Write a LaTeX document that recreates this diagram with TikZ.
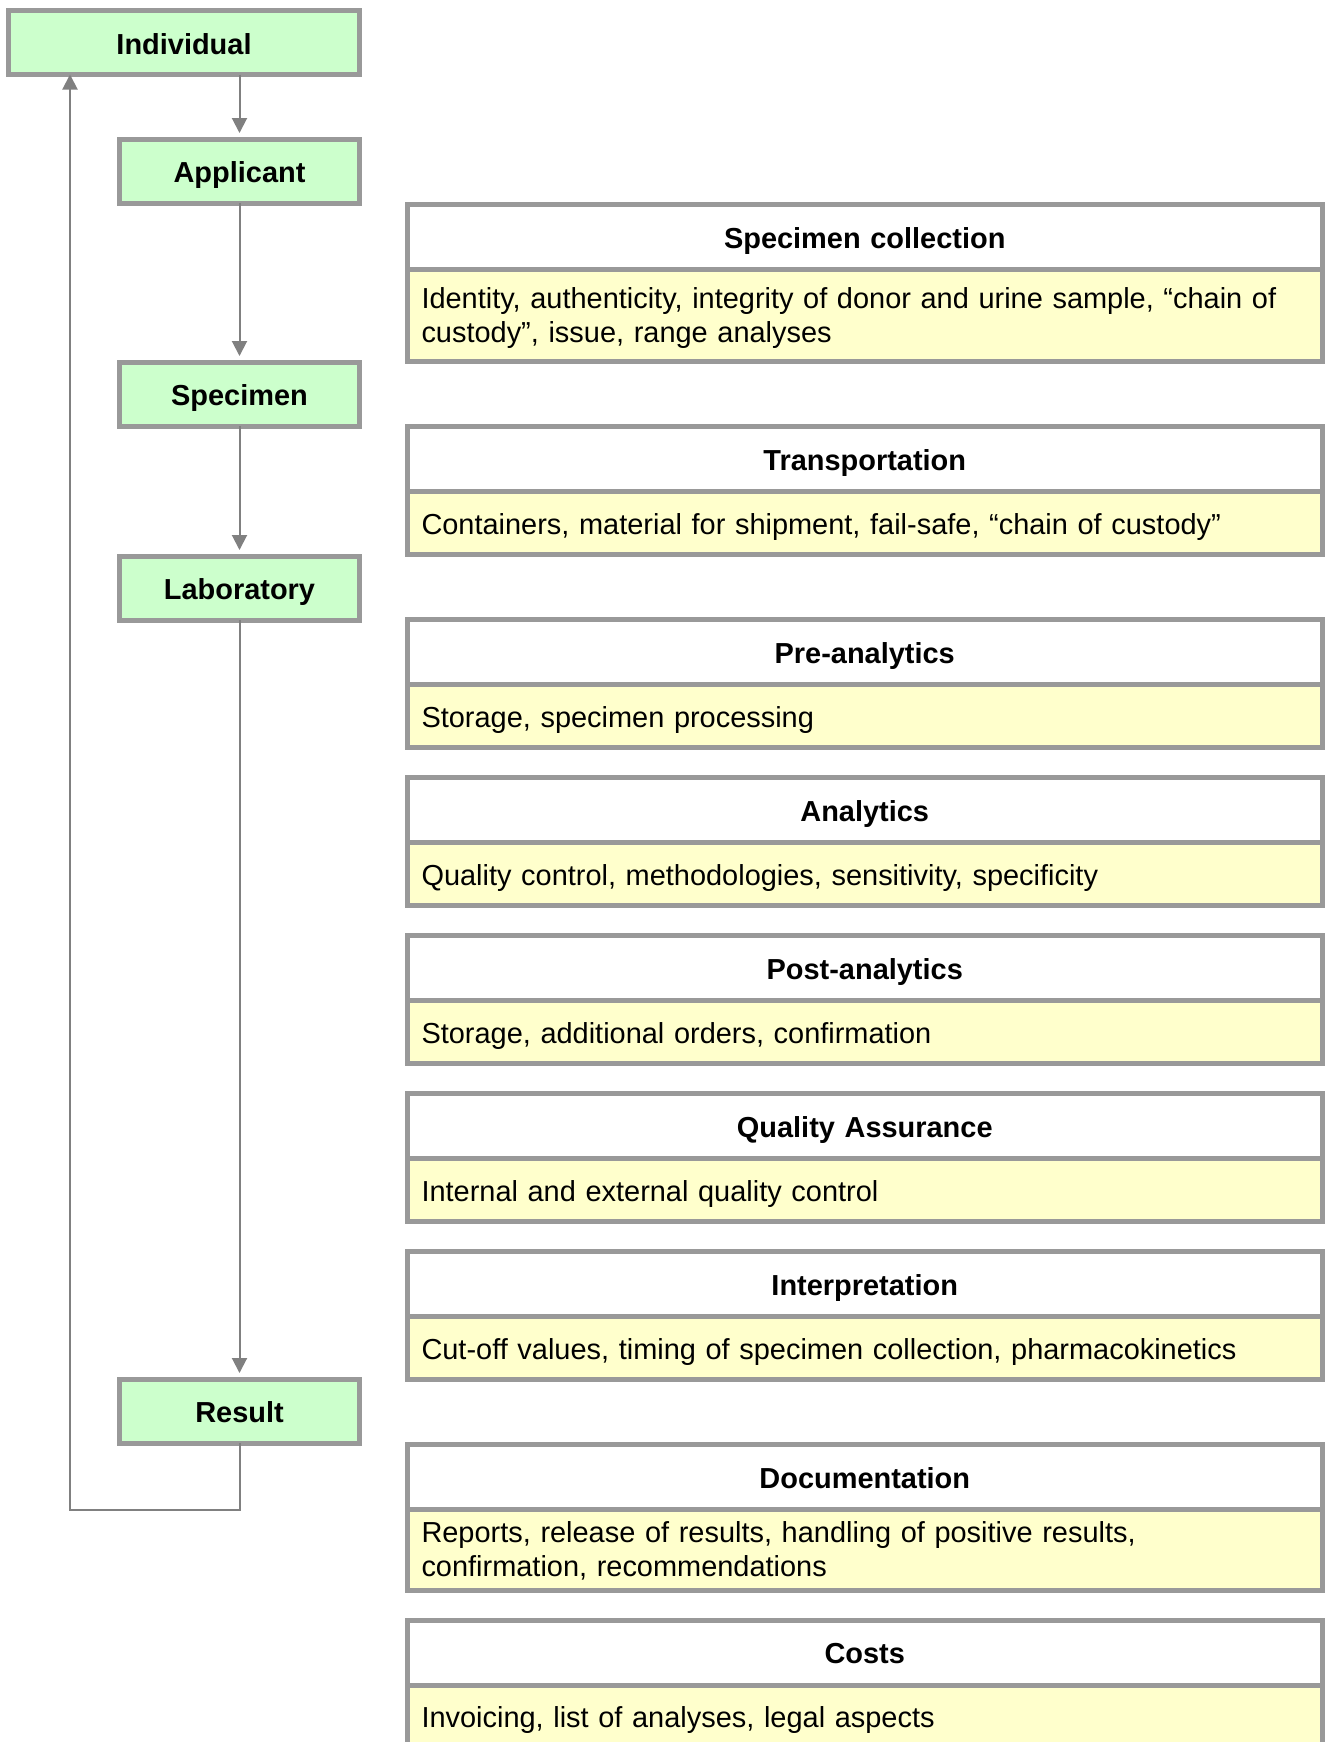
\documentclass[tikz,border=0pt]{standalone}
\usepackage{fontspec}
\setmainfont{Liberation Sans}
\usetikzlibrary{positioning,arrows.meta}
\definecolor{stagefill}{HTML}{CCFFCC}
\definecolor{notefill}{HTML}{FFFFCC}
\definecolor{rim}{HTML}{999999}
\definecolor{wire}{HTML}{808080}
\newcommand{\chartfont}{\fontsize{14.47pt}{17.2pt}\selectfont}

\begin{document}
\begin{tikzpicture}[x=0.5pt, y=-0.5pt]
    \tikzstyle{stage} = [rectangle, draw=rim, line width=2.5pt, fill=stagefill, minimum width=120pt, minimum height=32pt, text height=11.5pt, text depth=0pt, font=\chartfont\bfseries, outer sep=0pt]
    \tikzstyle{head} = [rectangle, draw=rim, line width=2.5pt, fill=white, text width=443.25pt, inner xsep=7pt, minimum height=32.5pt, text height=11pt, text depth=0pt, align=center, font=\chartfont\bfseries, outer sep=0pt]
    \tikzstyle{detail} = [head, fill=notefill, align=left, minimum height=31.5pt, font=\chartfont]
    \tikzstyle{twolines} = [text height=11pt, text depth=18.5pt]
    \tikzstyle{flow} = [draw=wire, line width=1pt, shorten >=3pt, -{Triangle[length=7.5pt, width=7.5pt]}]

    \useasboundingbox (0,0) rectangle (1324,1742);

    % left: the chain
    \node [stage, minimum width=175.5pt] (individual) at (184,42.5) {Individual};
    \node [stage] (applicant) at (239.5,171) {Applicant};
    \node [stage] (specimen) at (239.5,394) {Specimen};
    \node [stage] (laboratory) at (239.5,588) {Laboratory};
    \node [stage] (result) at (239.5,1411) {Result};

    \draw [flow] (individual.south -| applicant.north) -- (applicant.north);
    \draw [flow] (applicant) -- (specimen);
    \draw [flow] (specimen) -- (laboratory);
    \draw [flow] (laboratory) -- (result);
    \coordinate (corner) at (70,1510);
    \draw [flow, shorten >=0pt] (result) |- (corner) -- (corner |- individual.south);

    % right: the steps
    \node [head, anchor=north] (collection) at (864.75,204.5) {Specimen collection};
    \node [detail, twolines, below=0pt of collection, minimum height=46pt] (collection-text) {Identity, authenticity, integrity of donor and urine sample, “chain of\\custody”, issue, range analyses};
    \node [head, below=32.5pt of collection-text] (transport) {Transportation};
    \node [detail, below=0pt of transport] (transport-text) {Containers, material for shipment, fail-safe, “chain of custody”};
    \node [head, below=32.5pt of transport-text] (pre) {Pre-analytics};
    \node [detail, below=0pt of pre] (pre-text) {Storage, specimen processing};
    \node [head, below=15pt of pre-text] (analytics) {Analytics};
    \node [detail, below=0pt of analytics] (analytics-text) {Quality control, methodologies, sensitivity, specificity};
    \node [head, below=15pt of analytics-text] (post) {Post-analytics};
    \node [detail, below=0pt of post] (post-text) {Storage, additional orders, confirmation};
    \node [head, below=15pt of post-text] (quality) {Quality Assurance};
    \node [detail, below=0pt of quality] (quality-text) {Internal and external quality control};
    \node [head, below=15pt of quality-text] (interp) {Interpretation};
    \node [detail, below=0pt of interp] (interp-text) {Cut-off values, timing of specimen collection, pharmacokinetics};
    \node [head, below=32.5pt of interp-text] (docs) {Documentation};
    \node [detail, twolines, below=0pt of docs, minimum height=40.25pt] (docs-text) {Reports, release of results, handling of positive results,\\confirmation, recommendations};
    \node [head, below=15pt of docs-text] (costs) {Costs};
    \node [detail, below=0pt of costs] (costs-text) {Invoicing, list of analyses, legal aspects};
\end{tikzpicture}
\end{document}
